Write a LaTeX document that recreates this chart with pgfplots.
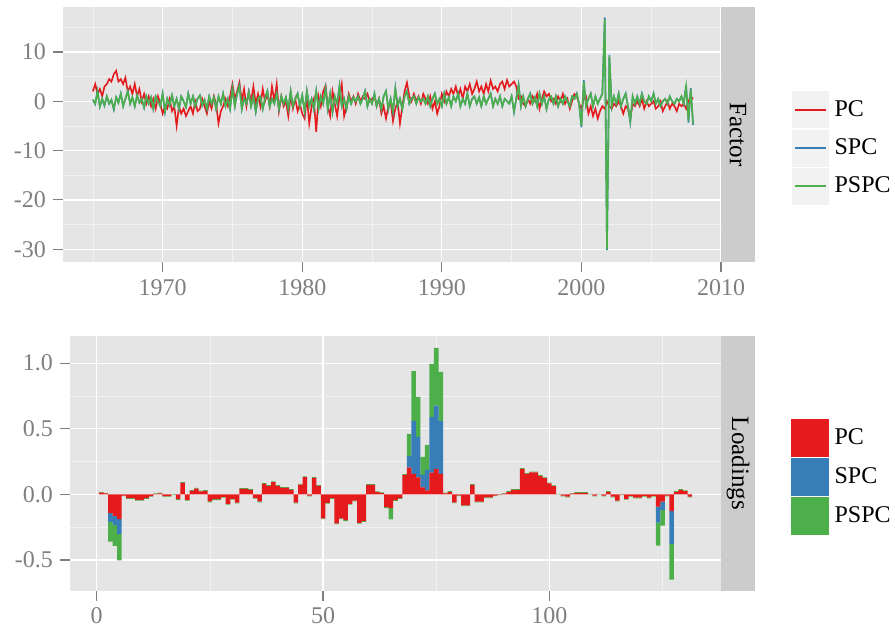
\documentclass[border=0pt]{standalone}
\usepackage{pgfplots}
\pgfplotsset{compat=1.18}
\usepackage{pgfplotstable}
\usepackage{fontspec}
\setmainfont{Liberation Serif}
\definecolor{pcred}{HTML}{E41A1C}
\definecolor{spcblue}{HTML}{377EB8}
\definecolor{pspcgreen}{HTML}{4DAF4A}
\definecolor{panelbg}{HTML}{E5E5E5}
\definecolor{minorgrid}{HTML}{F2F2F2}
\definecolor{stripbg}{HTML}{CCCCCC}
\definecolor{ticklab}{HTML}{7F7F7F}
\definecolor{keybg}{HTML}{F2F2F2}

\pgfplotstableread{
yr pc spc pspc
1965.00 2.0 0.3 0.3
1965.17 3.5 -0.6 -0.5
1965.33 1.5 2.1 2.0
1965.50 2.5 -1.1 -1.0
1965.67 1.0 0.5 0.5
1965.83 3.0 -0.9 -0.8
1966.00 3.5 1.0 1.0
1966.17 4.5 -0.5 -0.5
1966.33 4.0 0.3 0.3
1966.50 5.5 -1.7 -1.5
1966.67 6.2 0.8 0.8
1966.83 4.0 -0.3 -0.3
1967.00 4.5 1.6 1.5
1967.17 3.5 -1.0 -1.0
1967.33 4.8 0.5 0.5
1967.50 2.0 2.1 2.0
1967.67 3.0 -0.5 -0.5
1967.83 1.5 0.8 0.8
1968.00 3.5 -1.0 -1.0
1968.17 1.0 1.2 1.2
1968.33 2.5 -0.3 -0.3
1968.50 0.0 0.5 0.5
1968.67 1.5 -1.3 -1.2
1968.83 -0.5 1.0 1.0
1969.00 1.0 -0.5 -0.5
1969.17 -1.0 0.8 0.8
1969.33 0.5 -1.6 -1.5
1969.50 -1.5 1.0 1.0
1969.67 1.0 0.0 0.0
1969.83 -0.5 -1.0 -1.0
1970.00 -2.5 1.6 1.5
1970.17 -1.0 -2.2 -2.0
1970.33 -1.5 0.5 0.5
1970.50 0.5 -0.8 -0.8
1970.67 -2.0 1.2 1.2
1970.83 -1.0 -1.0 -1.0
1971.00 -5.0 0.5 0.5
1971.17 -1.0 -1.6 -1.5
1971.33 -2.5 1.0 1.0
1971.50 -1.5 0.0 0.0
1971.67 -3.0 -1.2 -1.2
1971.83 -2.0 1.6 1.5
1972.00 -1.0 -0.5 -0.5
1972.17 -2.5 1.0 1.0
1972.33 0.0 -1.0 -1.0
1972.50 -2.0 0.5 0.5
1972.67 -1.5 1.2 1.2
1972.83 0.5 -0.8 -0.8
1973.00 -1.0 0.3 0.3
1973.17 -2.5 -1.6 -1.5
1973.33 0.0 1.0 1.0
1973.50 -1.5 -0.5 -0.5
1973.67 1.0 0.8 0.8
1973.83 -0.5 -1.6 -1.5
1974.00 -4.5 1.0 1.0
1974.17 -2.0 -0.5 -0.5
1974.33 -1.0 1.6 1.5
1974.50 0.5 -1.0 -1.0
1974.67 -1.0 0.5 0.5
1974.83 1.0 -1.6 -1.5
1975.00 3.5 2.7 2.5
1975.17 0.5 -1.0 -1.0
1975.33 2.0 1.5 1.5
1975.50 3.8 3.2 3.0
1975.67 0.0 -1.6 -1.5
1975.83 2.5 0.5 0.5
1976.00 -1.0 -0.5 -0.5
1976.17 2.0 1.9 1.8
1976.33 0.0 -1.0 -1.0
1976.50 3.0 1.0 1.0
1976.67 -0.5 -2.2 -2.0
1976.83 1.5 0.5 0.5
1977.00 -1.0 1.0 1.0
1977.17 2.5 -1.6 -1.5
1977.33 0.0 0.5 0.5
1977.50 1.5 2.1 2.0
1977.67 -1.0 -1.0 -1.0
1977.83 3.0 0.5 0.5
1978.00 0.0 -0.5 -0.5
1978.17 3.5 1.6 1.5
1978.33 -2.0 -1.6 -1.5
1978.50 1.0 1.0 1.0
1978.67 -1.0 -0.5 -0.5
1978.83 0.0 0.8 0.8
1979.00 -3.0 -1.6 -1.5
1979.17 1.0 2.1 2.0
1979.33 -1.5 -1.0 -1.0
1979.50 0.5 0.5 0.5
1979.67 -2.0 1.6 1.5
1979.83 -0.5 -1.0 -1.0
1980.00 -2.5 1.2 1.2
1980.17 -3.5 -2.2 -2.0
1980.33 1.0 2.1 2.0
1980.50 -4.5 -1.0 -1.0
1980.67 -1.0 0.5 0.5
1980.83 0.5 -1.6 -1.5
1981.00 -6.2 2.1 2.0
1981.17 1.0 -1.6 -1.5
1981.33 -1.0 1.0 1.0
1981.50 2.0 -0.5 -0.5
1981.67 3.2 2.7 2.5
1981.83 -1.0 -1.6 -1.5
1982.00 -3.0 1.5 1.5
1982.17 2.0 -2.2 -2.0
1982.33 -0.5 1.0 1.0
1982.50 -3.0 -0.5 -0.5
1982.67 1.0 3.2 3.0
1982.83 3.5 -1.0 -1.0
1983.00 -3.0 0.5 0.5
1983.17 -1.0 -1.6 -1.5
1983.33 1.5 1.0 1.0
1983.50 0.0 -0.5 -0.5
1983.67 1.0 0.8 0.8
1983.83 -0.5 0.0 0.0
1984.00 1.5 1.0 1.0
1984.17 0.0 -0.5 -0.5
1984.33 1.0 0.5 0.5
1984.50 0.5 2.1 2.0
1984.67 1.5 -1.0 -1.0
1984.83 0.0 0.5 0.5
1985.00 0.5 -0.5 -0.5
1985.17 1.0 1.6 1.5
1985.33 -1.0 -1.0 -1.0
1985.50 0.5 0.5 0.5
1985.67 -2.5 -1.6 -1.5
1985.83 -1.0 1.0 1.0
1986.00 -3.5 2.1 2.0
1986.17 -1.0 -1.6 -1.5
1986.33 0.0 0.5 0.5
1986.50 -4.0 -2.2 -2.0
1986.67 -1.5 2.7 2.5
1986.83 0.0 -1.0 -1.0
1987.00 -4.5 0.5 0.5
1987.17 -1.0 -1.6 -1.5
1987.33 2.0 1.0 1.0
1987.50 3.8 2.1 2.0
1987.67 1.0 -0.5 -0.5
1987.83 0.0 0.5 0.5
1988.00 1.5 1.0 1.0
1988.17 0.0 -0.5 -0.5
1988.33 1.0 0.8 0.8
1988.50 -0.5 0.0 0.0
1988.67 1.5 0.5 0.5
1988.83 0.5 -0.5 -0.5
1989.00 -0.5 1.0 1.0
1989.17 1.0 -1.0 -1.0
1989.33 -1.5 0.5 0.5
1989.50 0.0 1.6 1.5
1989.67 -2.5 -0.5 -0.5
1989.83 -1.0 0.5 0.5
1990.00 1.5 -1.0 -1.0
1990.17 0.0 1.6 1.5
1990.33 2.0 -0.5 -0.5
1990.50 1.0 0.8 0.8
1990.67 2.5 -1.0 -1.0
1990.83 1.5 1.0 1.0
1991.00 3.0 0.0 0.0
1991.17 1.0 1.6 1.5
1991.33 2.5 -1.0 -1.0
1991.50 0.5 0.5 0.5
1991.67 3.0 -0.5 -0.5
1991.83 2.0 1.6 1.5
1992.00 3.5 -1.0 -1.0
1992.17 1.5 0.5 0.5
1992.33 2.5 1.0 1.0
1992.50 4.0 -0.5 -0.5
1992.67 2.0 0.8 0.8
1992.83 3.0 -1.0 -1.0
1993.00 1.5 1.0 1.0
1993.17 3.5 -0.5 -0.5
1993.33 2.0 0.5 0.5
1993.50 4.2 1.6 1.5
1993.67 2.5 -1.0 -1.0
1993.83 3.0 0.5 0.5
1994.00 2.0 -0.5 -0.5
1994.17 3.5 1.0 1.0
1994.33 4.0 -1.0 -1.0
1994.50 2.5 0.5 0.5
1994.67 4.3 0.0 0.0
1994.83 3.0 -0.5 -0.5
1995.00 3.5 1.0 1.0
1995.17 4.0 -2.2 -2.0
1995.33 3.0 0.5 0.5
1995.50 0.5 3.4 3.2
1995.67 1.0 -1.0 -1.0
1995.83 -0.5 1.0 1.0
1996.00 -1.0 -1.0 -1.0
1996.17 0.5 0.5 0.5
1996.33 -0.5 1.6 1.5
1996.50 1.0 -0.5 -0.5
1996.67 0.0 0.8 0.8
1996.83 1.5 -1.0 -1.0
1997.00 -1.5 1.6 1.5
1997.17 0.5 -0.5 -0.5
1997.33 2.0 1.0 1.0
1997.50 1.0 -1.6 -1.5
1997.67 1.5 0.5 0.5
1997.83 0.0 1.0 1.0
1998.00 0.5 -0.5 -0.5
1998.17 -0.5 1.0 1.0
1998.33 1.0 -1.0 -1.0
1998.50 0.0 0.5 0.5
1998.67 1.5 -0.5 -0.5
1998.83 -0.5 1.0 1.0
1999.00 0.5 0.0 0.0
1999.17 -1.5 -1.0 -1.0
1999.33 0.0 1.0 1.0
1999.50 1.5 0.5 0.5
1999.67 1.0 1.6 1.5
1999.83 -0.5 -0.5 -0.5
2000.00 -1.5 -5.3 -5.0
2000.17 0.5 4.3 4.0
2000.33 1.0 -1.0 -1.0
2000.50 -2.5 0.5 0.5
2000.67 -1.0 1.6 1.5
2000.83 -3.0 -1.0 -1.0
2001.00 -1.5 1.0 1.0
2001.17 -3.5 -0.5 -0.5
2001.33 -2.0 0.5 0.5
2001.50 -1.0 1.6 1.5
2001.67 -1.5 17.0 16.6
2001.83 0.0 -30.2 -30.0
2002.00 -1.0 9.4 9.2
2002.17 -1.5 -1.0 -1.0
2002.33 -0.5 1.0 1.0
2002.50 -1.0 -0.5 -0.5
2002.67 0.0 1.6 1.5
2002.83 -1.0 -1.0 -1.0
2003.00 -2.5 0.5 0.5
2003.17 -1.0 1.6 1.5
2003.33 -1.5 -1.0 -1.0
2003.50 -3.5 -4.3 -4.0
2003.67 -0.5 1.0 1.0
2003.83 -1.0 -0.5 -0.5
2004.00 0.0 1.0 1.0
2004.17 -1.0 -0.5 -0.5
2004.33 0.5 1.6 1.5
2004.50 -1.5 0.0 0.0
2004.67 0.0 -0.5 -0.5
2004.83 -1.0 1.0 1.0
2005.00 -0.5 0.0 0.0
2005.17 0.0 1.6 1.5
2005.33 -1.5 -0.5 -0.5
2005.50 -1.0 0.5 0.5
2005.67 0.0 -1.0 -1.0
2005.83 -2.0 0.0 0.0
2006.00 -1.0 0.5 0.5
2006.17 0.0 -0.5 -0.5
2006.33 -1.5 1.0 1.0
2006.50 -0.5 0.0 0.0
2006.67 -1.0 -0.5 -0.5
2006.83 -2.0 0.5 0.5
2007.00 -0.5 0.0 0.0
2007.17 -1.0 1.0 1.0
2007.33 -0.5 -0.5 -0.5
2007.50 -1.5 3.3 3.0
2007.67 0.0 -4.3 -4.0
2007.83 1.0 2.7 2.5
2008.00 0.5 -4.8 -4.5
}\factordata

\pgfplotstableread{
i pc spc pspc
1 0.013 0 0.006
2 0.008 0 0.004
3 -0.142 -0.068 -0.150
4 -0.165 -0.068 -0.160
5 -0.188 -0.114 -0.200
6 -0.010 0 -0.004
7 -0.028 0 -0.006
8 -0.028 0 -0.006
9 -0.042 0 -0.006
10 -0.042 0 -0.006
11 -0.028 0 -0.006
12 -0.013 0 -0.005
13 0.004 0 0.004
14 0.008 0 0.005
15 -0.013 0 -0.005
16 -0.013 0 -0.005
17 0 0 -0.004
18 -0.037 0 -0.006
19 0.088 0 0.006
20 -0.042 0 -0.006
21 0.027 0 0.006
22 0.044 0 0.006
23 0.022 0 0.006
24 0.027 0 0.006
25 -0.054 0 -0.006
26 -0.037 0 -0.006
27 -0.037 0 -0.006
28 -0.019 0 -0.006
29 -0.072 0 -0.006
30 -0.034 0 -0.006
31 -0.062 0 -0.006
32 0.042 0 0.006
33 0.042 0 0.006
34 0.034 0 0.006
35 -0.027 0 -0.006
36 -0.054 0 -0.006
37 0.080 0 0.006
38 0.065 0 0.006
39 0.094 0 0.006
40 0.065 0 0.006
41 0.050 0 0.006
42 0.050 0 0.006
43 0.034 0 0.006
44 -0.062 0 -0.006
45 0.075 0 0.006
46 0.131 0 0.006
47 -0.009 0 -0.006
48 0.125 0 0.006
49 0.065 0 0.006
50 -0.182 0 -0.006
51 -0.065 0 -0.006
52 -0.029 0 -0.006
53 -0.220 0 -0.006
54 -0.182 0 -0.006
55 -0.197 0 -0.006
56 -0.073 0 -0.006
57 -0.047 0 -0.006
58 -0.217 0 -0.006
59 -0.204 0 -0.006
60 0.073 0 0.006
61 0.073 0 0.006
62 0.017 0 0.006
63 0.009 0 0.006
64 -0.098 0 -0.006
65 -0.104 0 -0.086
66 -0.044 0 -0.006
67 -0.029 0 -0.006
68 0.149 0 0.006
69 0.203 0.091 0.167
70 0.157 0.403 0.380
71 0.129 0.310 0.304
72 0.053 0.096 0.137
73 0.030 0.157 0.190
74 0.165 0.426 0.403
75 0.195 0.482 0.439
76 0.157 0.403 0.373
77 0.007 0 0.006
78 0.019 0 0.006
79 -0.060 0 -0.006
80 -0.007 0 -0.006
81 -0.083 0 -0.006
82 -0.083 0 -0.006
83 0.073 0 0.006
84 -0.055 0 -0.006
85 -0.055 0 -0.006
86 -0.022 0 -0.006
87 -0.022 0 -0.006
88 -0.009 0 -0.004
89 -0.002 0 -0.003
90 0.006 0 0.004
91 0.019 0 0.006
92 0.034 0 0.006
93 0.034 0 0.006
94 0.194 0 0.006
95 0.156 0 0.006
96 0.168 0 0.006
97 0.168 0 0.006
98 0.140 0 0.006
99 0.124 0 0.006
100 0.084 0 0.006
101 0.062 0 0.006
102 0.000 0 0.003
103 -0.010 0 -0.005
104 -0.017 0 -0.006
105 0.005 0 0.005
106 0.012 0 0.006
107 0.012 0 0.006
108 0.012 0 0.006
109 0.000 0 0.003
110 -0.010 0 -0.005
111 0.000 0 0.003
112 -0.010 0 -0.005
113 0.020 0 0.005
114 -0.017 0 -0.006
115 -0.047 0 -0.006
116 -0.002 0 -0.003
117 -0.034 0 -0.006
118 -0.012 0 -0.006
119 -0.024 0 -0.006
120 -0.024 0 -0.006
121 -0.012 0 -0.006
122 -0.024 0 -0.006
123 -0.012 0 -0.006
124 -0.094 -0.122 -0.175
125 -0.056 -0.063 -0.119
126 -0.010 0 -0.005
127 -0.127 -0.251 -0.271
128 0.020 0 0.005
129 0.034 0 0.006
130 0.024 0 0.006
131 -0.017 0 -0.006
}\loaddata

\pgfplotsset{
 ybar legend/.style={legend image code/.code={
    \fill[draw=none] (0pt,-9.5pt) rectangle (19pt,9.5pt);}},
 ggstyle/.style={
  scale only axis,
  axis background/.style={fill=panelbg},
  axis line style={draw=none},
  tick align=outside,
  tick pos=left,
  major tick length=5pt,
  minor tick length=0pt,
  tick style={ticklab, line width=0.6pt},
  grid=both,
  major grid style={white, line width=0.65pt},
  minor grid style={minorgrid, line width=0.35pt},
  tick label style={font=\fontsize{12}{14}\selectfont, text=ticklab},
  legend cell align=left,
  legend style={draw=none, fill=none, inner sep=0pt, outer sep=0pt,
    row sep=0.6pt, column sep=2.75pt, nodes={inner sep=0pt},
    font=\fontsize{12}{14}\selectfont, anchor=west},
 }
}

\begin{document}
\begin{tikzpicture}
\path[use as bounding box] (0pt,0pt) rectangle (447.5pt,316pt);

\begin{axis}[ggstyle,
  at={(31.5pt,185pt)}, anchor=south west,
  width=329pt, height=127.5pt,
  xmin=1962.86, xmax=2010, ymin=-32.6, ymax=19.13,
  xtick={1970,1980,1990,2000,2010},
  xticklabels={1970,1980,1990,2000,2010},
  minor xtick={1965,1975,1985,1995,2005},
  ytick={-30,-20,-10,0,10},
  yticklabels={-30,-20,-10,0,10},
  minor ytick={-25,-15,-5,5,15},
  legend image code/.code={
    \fill[keybg,draw=none] (0pt,-9.25pt) rectangle (18.5pt,9.25pt);
    \draw (1.5pt,0pt) -- (17pt,0pt);},
  legend style={at={(1.108,0.447)}},
]
\addplot[pcred, line width=0.8pt] table[x=yr,y=pc]{\factordata};
\addlegendentry{PC}
\addplot[spcblue, line width=0.8pt] table[x=yr,y=spc]{\factordata};
\addlegendentry{SPC}
\addplot[pspcgreen, line width=0.8pt] table[x=yr,y=pspc]{\factordata};
\addlegendentry{PSPC}
\end{axis}

\begin{axis}[ggstyle,
  at={(35pt,20.65pt)}, anchor=south west,
  width=325.5pt, height=127.35pt,
  xmin=-5.9, xmax=137.9, ymin=-0.734, ymax=1.207,
  ybar stacked, bar width=1,
  xtick={0,50,100},
  xticklabels={0,50,100},
  minor xtick={25,75,125},
  ytick={-0.5,0,0.5,1},
  yticklabels={-0.5,0.0,0.5,1.0},
  minor ytick={-0.25,0.25,0.75},
  legend style={at={(1.1077,0.446)}},
]
\addplot[fill=pcred, draw=none, legend image code/.code={\fill[draw=none] (0pt,-9.5pt) rectangle (19pt,9.5pt);}] table[x=i,y=pc]{\loaddata};
\addlegendentry{PC}
\addplot[fill=spcblue, draw=none, legend image code/.code={\fill[draw=none] (0pt,-9.5pt) rectangle (19pt,9.5pt);}] table[x=i,y=spc]{\loaddata};
\addlegendentry{SPC}
\addplot[fill=pspcgreen, draw=none, legend image code/.code={\fill[draw=none] (0pt,-9.5pt) rectangle (19pt,9.5pt);}] table[x=i,y=pspc]{\loaddata};
\addlegendentry{PSPC}
\end{axis}

\fill[stripbg] (360.5pt,185pt) rectangle (377.5pt,312.5pt);
\node[rotate=-90, font=\fontsize{12.5}{14}\selectfont] at (369pt,248.75pt) {Factor};
\fill[stripbg] (360.5pt,20.65pt) rectangle (377.5pt,148pt);
\node[rotate=-90, font=\fontsize{12.5}{14}\selectfont] at (369pt,84.3pt) {Loadings};
\end{tikzpicture}
\end{document}
